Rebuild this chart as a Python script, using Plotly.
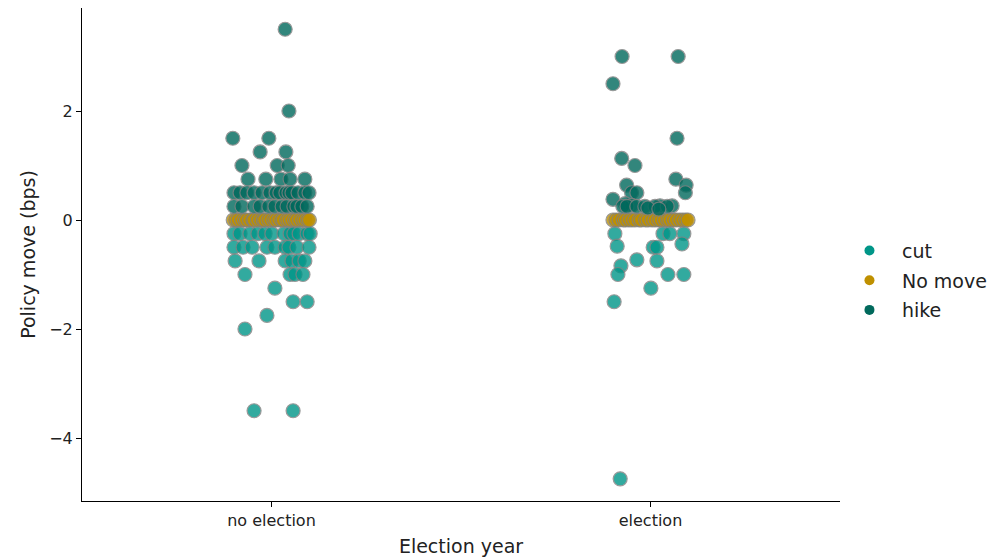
import numpy as np
import plotly.graph_objects as go

# Categories on the x axis
categories = ["no election", "election"]
hue_levels = ["cut", "No move", "hike"]
colors = {"cut": "#009688", "No move": "#BF9000", "hike": "#00695C"}

# Policy moves (bps) and strip jitter (in category units), per election status
ne_cut = [-0.25] * 12 + [-0.5] * 9 + [-0.75] * 6 + [-1.0] * 4 + [-1.25, -1.5, -1.5, -1.75, -2.0, -3.5, -3.5]
ne_cut_jit = [-0.099, -0.083, -0.057, -0.036, -0.017, 0.001, 0.033, 0.049, 0.059, 0.073, 0.094, 0.102,
              -0.099, -0.075, -0.051, -0.012, 0.009, 0.036, 0.046, 0.067, 0.099,
              -0.096, -0.033, 0.036, 0.054, 0.073, 0.088,
              -0.070, 0.049, 0.062, 0.083,
              0.009, 0.057, 0.094, -0.012, -0.070, -0.046, 0.057]

ne_nomove_jit = [-0.101, -0.094, -0.088, -0.079, -0.071, -0.066, -0.058, -0.049, -0.046, -0.037,
                 -0.029, -0.022, -0.018, -0.009, -0.002, 0.006, 0.011, 0.019, 0.027, 0.031,
                 0.040, 0.046, 0.053, 0.061, 0.066, 0.074, 0.082, 0.088, 0.095, 0.100]
ne_nomove = [0.0] * len(ne_nomove_jit)

ne_hike = [3.5, 2.0, 1.5, 1.5, 1.25, 1.25, 1.0, 1.0, 1.0] + [0.75] * 5 + [0.5] * 14 + [0.25] * 12
ne_hike_jit = [0.036, 0.046, -0.102, -0.007, -0.030, 0.038, -0.078, 0.015, 0.044,
               -0.062, -0.015, 0.025, 0.049, 0.088,
               -0.099, -0.083, -0.065, -0.046, -0.025, -0.004, 0.012, 0.022, 0.038, 0.046, 0.054, 0.070, 0.088, 0.099,
               -0.099, -0.078, -0.046, -0.030, -0.007, 0.009, 0.028, 0.041, 0.059, 0.067, 0.080, 0.094]

el_cut = [-0.25] * 4 + [-0.44, -0.48, -0.5, -0.5, -0.73, -0.75, -0.84, -1.0, -1.0, -1.0, -1.25, -1.5, -4.75]
el_cut_jit = [-0.094, 0.033, 0.051, 0.088,
              0.083, -0.088, 0.007, 0.017, -0.036, 0.017, -0.078, -0.086, 0.046, 0.088, 0.001, -0.096, -0.080]

el_nomove_jit = [-0.099, -0.091, -0.083, -0.072, -0.066, -0.057, -0.049, -0.041, -0.030, -0.024,
                 -0.013, -0.006, 0.004, 0.012, 0.021, 0.028, 0.037, 0.045, 0.051, 0.060,
                 0.068, 0.077, 0.085, 0.093, 0.099]
el_nomove = [0.0] * len(el_nomove_jit)

el_hike = [3.0, 3.0, 2.5, 1.5, 1.13, 1.0, 0.75, 0.64, 0.64, 0.5, 0.5, 0.5, 0.38, 0.3,
           0.27, 0.25, 0.25, 0.25, 0.25, 0.26, 0.26, 0.25, 0.25, 0.22, 0.2]
el_hike_jit = [-0.075, 0.073, -0.099, 0.070, -0.076, -0.041, 0.067, 0.094, -0.063, 0.092, -0.050, -0.036, -0.099, -0.067,
               -0.049, -0.073, -0.062, -0.036, -0.015, 0.025, 0.057, 0.012, 0.044, -0.007, 0.022]

groups = {
    "no election": {"cut": (ne_cut, ne_cut_jit), "No move": (ne_nomove, ne_nomove_jit), "hike": (ne_hike, ne_hike_jit)},
    "election": {"cut": (el_cut, el_cut_jit), "No move": (el_nomove, el_nomove_jit), "hike": (el_hike, el_hike_jit)},
}

fig = go.Figure()

for level in hue_levels:
    xs, ys = [], []
    for i, cat in enumerate(categories):
        vals, jit = groups[cat][level]
        xs.extend(i + np.asarray(jit))
        ys.extend(vals)
    fig.add_trace(go.Scatter(
        x=xs, y=ys, mode="markers", name=level, showlegend=False,
        marker=dict(size=14, color=colors[level], opacity=0.8,
                    line=dict(color="#808080", width=1.2)),
        hoverinfo="skip",
    ))

# Legend entries: plain filled dots
for level in hue_levels:
    fig.add_trace(go.Scatter(
        x=[None], y=[None], mode="markers", name=level, legendgroup=level,
        marker=dict(size=10, color=colors[level]),
    ))

axis_font = dict(family="DejaVu Sans", size=16, color="#222222")
title_font = dict(family="DejaVu Sans", size=19, color="#222222")

fig.update_layout(
    width=1002, height=557,
    margin=dict(l=82, r=162, t=8, b=56, autoexpand=False),
    plot_bgcolor="white", paper_bgcolor="white",
    font=dict(family="DejaVu Sans"),
    showlegend=True,
    legend=dict(x=0.996, xanchor="left", y=0.447, yanchor="middle",
                font=dict(family="DejaVu Sans", size=19, color="#222222"),
                tracegroupgap=2, itemwidth=55, itemsizing="trace", bgcolor="rgba(0,0,0,0)"),
    xaxis=dict(
        range=[-0.5, 1.5], tickvals=[0, 1], ticktext=categories, automargin=False,
        showline=True, linecolor="black", linewidth=1, ticks="outside", ticklen=5,
        tickcolor="black", showgrid=False, zeroline=False, tickfont=axis_font,
        title=dict(text="Election year", font=title_font, standoff=10),
    ),
    yaxis=dict(
        range=[-5.156, 3.89], tickvals=[-4, -2, 0, 2], automargin=False,
        showline=True, linecolor="black", linewidth=1, ticks="outside", ticklen=5,
        tickcolor="black", showgrid=False, zeroline=False, tickfont=axis_font,
        title=dict(text="Policy move (bps)", font=title_font, standoff=8),
    ),
)

fig.write_html("out.html")
